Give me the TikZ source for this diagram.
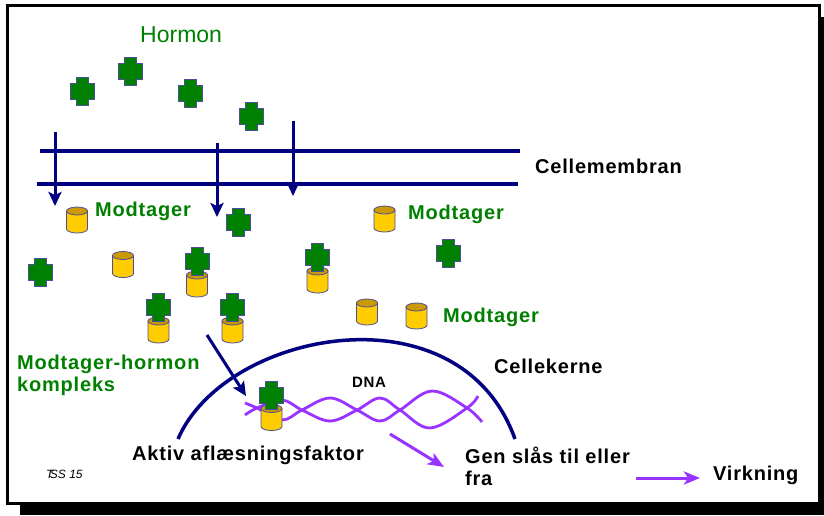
\documentclass[tikz,border=0pt]{standalone}
\usepackage{fontspec}
\setmainfont{Liberation Sans}
\newfontfamily\labfont[LetterSpace=4]{Liberation Sans}
\usetikzlibrary{arrows.meta}
\definecolor{navy}{HTML}{000080}
\definecolor{hgreen}{HTML}{008000}
\definecolor{gold}{HTML}{FFCC00}
\definecolor{darkgold}{HTML}{CC9900}
\definecolor{rim}{HTML}{4D4D99}
\definecolor{dnapurple}{HTML}{9933FF}

\begin{document}
\begin{tikzpicture}[x=1pt,y=-1pt,
  lbl/.style={font=\labfont\bfseries\fontsize{20}{22}\selectfont, inner sep=0pt, anchor=base west, align=left},
  glbl/.style={lbl, text=hgreen},
  membrane/.style={navy, line width=4pt},
  entry/.style={navy, line width=3pt, -{Stealth[length=14pt,width=13pt,inset=3pt]}},
  signal/.style={dnapurple, line width=3pt, -{Stealth[length=16pt,width=13pt,inset=4pt]}},
  strand/.style={dnapurple, line width=2.8pt},
  hormone/.pic={
    \filldraw[fill=hgreen, draw=rim, line width=0.8pt]
      (-6,-14) -- (6,-14) -- (6,-8) -- (12,-8) -- (12,8) -- (6,8) -- (6,14)
      -- (-6,14) -- (-6,8) -- (-12,8) -- (-12,-8) -- (-6,-8) -- cycle;
  },
  receptor/.pic={
    \filldraw[fill=gold, draw=rim, line width=0.8pt]
      (-10.5,-9) -- (-10.5,9) arc[start angle=180, end angle=360, x radius=10.5pt, y radius=4pt]
      -- (10.5,-9) -- cycle;
    \filldraw[fill=darkgold, draw=rim, line width=0.8pt] (0,-9) ellipse [x radius=10.5pt, y radius=4pt];
  },
  complex/.pic={
    \pic {receptor};
    \pic at (0,-22.5) {hormone};
  }
]
\useasboundingbox (0,0) rectangle (824,515);

% frame with drop shadow
\fill[black] (20,17) rectangle (824,515);
\draw[black, fill=white, line width=3.4pt] (7.7,5.7) rectangle (819.3,503.5);

% cell membrane
\coordinate (m1a) at (40,151);  \coordinate (m1b) at (520,151);
\coordinate (m2a) at (37,184);  \coordinate (m2b) at (518,184);
\draw[membrane] (m1a) -- (m1b);
\draw[membrane] (m2a) -- (m2b);

% hormones passing the membrane
\coordinate (e1a) at (55,132);  \coordinate (e1b) at (55,206);
\coordinate (e2a) at (217,143); \coordinate (e2b) at (217,217);
\coordinate (e3a) at (293,121); \coordinate (e3b) at (293,196);
\draw[entry] (e1a) -- (e1b);
\draw[entry] (e2a) -- (e2b);
\draw[entry] (e3a) -- (e3b);

% free hormones
\pic (h1) at (82,91) {hormone};
\pic (h2) at (130,71) {hormone};
\pic (h3) at (190,93) {hormone};
\pic (h4) at (251,116) {hormone};
\pic (h5) at (238,222) {hormone};
\pic (h6) at (40,272) {hormone};
\pic (h7) at (448,253) {hormone};

% free receptors
\pic (r1) at (77,220) {receptor};
\pic (r2) at (123,264.5) {receptor};
\pic (r3) at (384.5,219) {receptor};
\pic (r4) at (367,312) {receptor};
\pic (r5) at (416.5,316) {receptor};

% receptor-hormone complexes
\pic (c1) at (197,284) {complex};
\pic (c2) at (158.5,330) {complex};
\pic (c3) at (232.5,330) {complex};
\pic (c4) at (317.5,280) {complex};

% labels
\node[font=\fontsize{23}{26}\selectfont, text=hgreen, inner sep=0pt, anchor=base west] (hormon) at (140,42) {Hormon};
\node[lbl] (cellemembran) at (535,173) {Cellemembran};
\node[glbl] (mod1) at (95,216) {Modtager};
\node[glbl] (mod2) at (408,219) {Modtager};
\node[glbl] (mod3) at (443,322) {Modtager};
\node[glbl] (modkompleks) at (17,391) {Modtager-hormon\\kompleks};
\node[lbl] (cellekerne) at (494,373) {Cellekerne};
\node[lbl, font=\labfont\bfseries\fontsize{15}{18}\selectfont] (dna) at (352,387) {DNA};
\node[lbl] (aktiv) at (132,460) {Aktiv aflæsningsfaktor};
\node[lbl] (gen) at (465,485) {Gen slås til eller\\fra};
\node[lbl] (virkning) at (713,480) {Virkning};
\node[font=\itshape\fontsize{12}{14}\selectfont, inner sep=0pt, anchor=base west] (sign) at (46,478) {T\kern-0.3em SS 15};

% nucleus envelope
\coordinate (ka) at (178,439);
\coordinate (kb) at (515,439);
\draw[navy, line width=3.5pt] (ka) .. controls (225,330) and (460,285) .. (kb);

% DNA double strand
\draw[strand] plot[smooth, tension=0.6] coordinates {(245,403) (257,408) (282,420) (302,410) (330,398) (357,410) (380,421) (400,410) (432,391) (467,408) (482,422)};
\draw[strand] plot[smooth, tension=0.6] coordinates {(245,415) (257,408) (282,400) (302,410) (330,421) (357,410) (380,398) (400,410) (430,428) (467,408) (478,396)};

% active transcription factor bound to DNA
\pic (c5) at (271.5,417.5) {complex};

% complex moving into the nucleus
\coordinate (da) at (207,335);
\coordinate (db) at (246,396);
\draw[entry] (da) -- (db);

% effect arrows
\coordinate (ga) at (390,434);
\coordinate (gb) at (444,467);
\draw[signal] (ga) -- (gb);
\coordinate (va) at (636,478);
\coordinate (vb) at (700,478);
\draw[signal] (va) -- (vb);
\end{tikzpicture}
\end{document}
